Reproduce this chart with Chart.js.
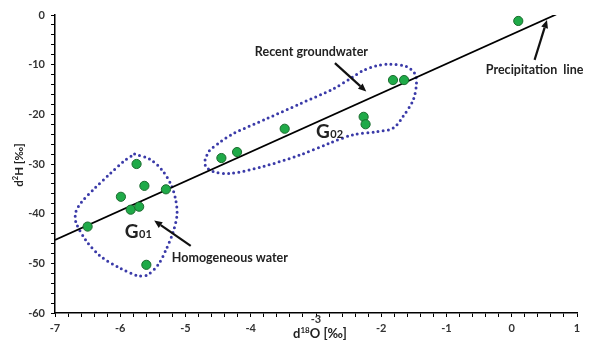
<!DOCTYPE html>
<html>
<head>
<meta charset="utf-8">
<script src="https://cdn.jsdelivr.net/npm/chart.js@4/dist/chart.umd.min.js"></script>
<style>
  html, body { margin: 0; padding: 0; background: #fff; }
  #wrap { width: 589px; height: 346px; position: relative; }
</style>
</head>
<body>
<div id="wrap"><canvas id="c" width="589" height="346"></canvas></div>
<script>
// Water samples: delta 18O and delta 2H (‰)
const sampleO18 = [0.10, -1.82, -1.65, -2.27, -2.24, -3.48, -4.21, -4.45, -5.75, -5.63, -5.30, -5.99, -5.84, -5.71, -6.50, -5.60];
const sampleH2  = [-1.2, -13.1, -13.1, -20.5, -22.0, -22.9, -27.6, -28.8, -30.0, -34.4, -35.1, -36.6, -39.2, -38.6, -42.6, -50.3];

// Precipitation line end points
const lineO18 = [-7.0, 0.68];
const lineH2  = [-45.3, 0.1];

// Outline of group G01 (homogeneous water)
const g01O18 = [-5.78, -5.55, -5.36, -5.22, -5.15, -5.13, -5.19, -5.30, -5.42, -5.58, -5.73, -6.01, -6.31, -6.53, -6.68, -6.68, -6.59, -6.40, -6.16, -5.94, -5.78];
const g01H2  = [-28.0, -29.0, -31.2, -34.2, -37.2, -40.2, -43.7, -47.3, -50.3, -52.3, -52.5, -50.9, -48.5, -45.3, -41.7, -39.6, -37.6, -35.0, -32.0, -29.4, -28.0];

// Outline of group G02 (recent groundwater)
const g02O18 = [-4.70, -4.64, -4.47, -4.27, -3.76, -3.25, -2.74, -2.44, -2.28, -2.07, -1.87, -1.61, -1.49, -1.46, -1.51, -1.67, -1.82, -2.07, -2.43, -2.79, -3.25, -3.81, -4.32, -4.58, -4.69, -4.70];
const g02H2  = [-29.2, -27.4, -25.6, -23.9, -20.9, -17.9, -14.9, -12.5, -11.2, -10.2, -9.9, -10.4, -11.7, -13.7, -17.1, -20.5, -22.8, -23.5, -24.1, -25.8, -28.2, -30.5, -31.9, -31.5, -30.5, -29.2];

// Axis ranges and labelled ticks
const xMin = -7, xMax = 1, xMinorStep = 0.2;
const yMin = -60, yMax = 0, yMinorStep = 2;
const xTickLabels = [-7, -6, -5, -4, -3, -2, -1, 0, 1];
const yTickLabels = [-60, -50, -40, -30, -20, -10, 0];

// Text annotations with arrows (data coordinates)
const noteTexts = ['Recent groundwater', 'Precipitation  line', 'Homogeneous water'];
const noteTextO18 = [-3.07, 0.35, -4.32];
const noteTextH2  = [-7.4, -11.1, -48.9];
const arrowFromO18 = [-2.71, 0.35, -4.92];
const arrowFromH2  = [-9.7, -9.05, -46.5];
const arrowToO18   = [-2.23, 0.54, -5.48];
const arrowToH2    = [-15.4, -1.0, -41.4];

// Group labels
const groupNames = ['G', 'G'];
const groupSubs  = ['01', '02'];
const groupO18   = [-5.93, -3.00];
const groupH2    = [-44.8, -24.85];

const zip = (xs, ys) => xs.map((x, i) => ({ x: x, y: ys[i] }));
const near = (v, list) => list.some(t => Math.abs(v - t) < 1e-6);

const TEXT = '#222';
const FONT = 'Lato, "Open Sans", sans-serif';

const annotations = {
  id: 'annotations',
  afterDraw(chart) {
    const ctx = chart.ctx;
    const xs = chart.scales.x, ys = chart.scales.y;
    const area = chart.chartArea;
    ctx.save();

    // arrows
    ctx.strokeStyle = '#111';
    ctx.fillStyle = '#111';
    ctx.lineWidth = 2.2;
    for (let i = 0; i < arrowFromO18.length; i++) {
      const x0 = xs.getPixelForValue(arrowFromO18[i]), y0 = ys.getPixelForValue(arrowFromH2[i]);
      const x1 = xs.getPixelForValue(arrowToO18[i]), y1 = ys.getPixelForValue(arrowToH2[i]);
      const a = Math.atan2(y1 - y0, x1 - x0);
      const hl = 8, hw = 3.5;
      const bx = x1 - hl * Math.cos(a), by = y1 - hl * Math.sin(a);
      ctx.beginPath();
      ctx.moveTo(x0, y0);
      ctx.lineTo(bx, by);
      ctx.stroke();
      ctx.beginPath();
      ctx.moveTo(x1, y1);
      ctx.lineTo(bx + hw * Math.sin(a), by - hw * Math.cos(a));
      ctx.lineTo(bx - hw * Math.sin(a), by + hw * Math.cos(a));
      ctx.closePath();
      ctx.fill();
    }

    // annotation texts
    ctx.fillStyle = TEXT;
    ctx.font = 'bold 12.5px ' + FONT;
    ctx.textAlign = 'center';
    ctx.textBaseline = 'middle';
    for (let i = 0; i < noteTexts.length; i++) {
      ctx.fillText(noteTexts[i], xs.getPixelForValue(noteTextO18[i]), ys.getPixelForValue(noteTextH2[i]));
    }

    // group labels G01 / G02
    ctx.textAlign = 'left';
    ctx.textBaseline = 'alphabetic';
    for (let i = 0; i < groupNames.length; i++) {
      const gx = xs.getPixelForValue(groupO18[i]), gy = ys.getPixelForValue(groupH2[i]);
      ctx.font = 'bold 19px ' + FONT;
      ctx.fillText(groupNames[i], gx, gy);
      const w = ctx.measureText(groupNames[i]).width;
      ctx.font = 'bold 11px ' + FONT;
      ctx.fillText(groupSubs[i], gx + w + 0.5, gy);
    }

    // axis titles with superscripts
    const drawSup = (parts, cx, cy) => {
      let total = 0;
      parts.forEach(p => { ctx.font = p.font; total += ctx.measureText(p.t).width; });
      let x = cx - total / 2;
      parts.forEach(p => {
        ctx.font = p.font;
        ctx.fillText(p.t, x, cy + p.dy);
        x += ctx.measureText(p.t).width;
      });
    };
    ctx.fillStyle = TEXT;
    ctx.textBaseline = 'alphabetic';
    ctx.textAlign = 'left';
    drawSup([
      { t: 'd', font: 'bold 13px ' + FONT, dy: 0 },
      { t: '18', font: 'bold 8px ' + FONT, dy: -5.5 },
      { t: 'O [‰]', font: 'bold 13px ' + FONT, dy: 0 }
    ], (area.left + area.right) / 2 + 4, area.bottom + 25);

    ctx.save();
    ctx.translate(area.left - 32, (area.top + area.bottom) / 2 + 1);
    ctx.rotate(-Math.PI / 2);
    drawSup([
      { t: 'd', font: 'bold 11.5px ' + FONT, dy: 0 },
      { t: '2', font: 'bold 7.5px ' + FONT, dy: -5 },
      { t: 'H [‰]', font: 'bold 11.5px ' + FONT, dy: 0 }
    ], 0, 0);
    ctx.restore();

    // the -3 label sits raised above the axis title
    ctx.font = 'bold 11px ' + FONT;
    ctx.fillStyle = '#333';
    ctx.textAlign = 'center';
    ctx.textBaseline = 'middle';
    ctx.fillText('-3', xs.getPixelForValue(-3), area.bottom + 6.5);

    ctx.restore();
  }
};

const tickGrid = {
  display: true,
  drawOnChartArea: false,
  drawTicks: true,
  tickLength: 4,
  color: '#000',
  lineWidth: 1
};

new Chart(document.getElementById('c'), {
  type: 'scatter',
  data: {
    datasets: [
      {
        label: 'Samples',
        data: zip(sampleO18, sampleH2),
        pointRadius: 4.6,
        pointBackgroundColor: '#1faa48',
        pointBorderColor: '#1b6b2e',
        pointBorderWidth: 1,
        showLine: false
      },
      {
        label: 'Precipitation line',
        data: zip(lineO18, lineH2),
        showLine: true,
        borderColor: '#000',
        borderWidth: 1.8,
        pointRadius: 0
      },
      {
        label: 'G01',
        data: zip(g01O18, g01H2),
        showLine: true,
        tension: 0.3,
        borderColor: '#3a3aa8',
        borderWidth: 3,
        borderDash: [0, 5.2],
        borderCapStyle: 'round',
        pointRadius: 0
      },
      {
        label: 'G02',
        data: zip(g02O18, g02H2),
        showLine: true,
        tension: 0.3,
        borderColor: '#3a3aa8',
        borderWidth: 3,
        borderDash: [0, 5.2],
        borderCapStyle: 'round',
        pointRadius: 0
      }
    ]
  },
  options: {
    responsive: false,
    animation: false,
    events: [],
    layout: { padding: { top: 15, right: 12, left: 0, bottom: 0 } },
    plugins: { legend: { display: false }, tooltip: { enabled: false } },
    scales: {
      x: {
        type: 'linear',
        min: xMin, max: xMax,
        afterFit(scale) { scale.height = 33; },
        grid: tickGrid,
        border: { display: true, color: '#000', width: 1.5 },
        ticks: {
          stepSize: xMinorStep,
          maxTicksLimit: 100,
          autoSkip: false,
          maxRotation: 0, minRotation: 0,
          padding: 5,
          color: '#333',
          font: { family: FONT, size: 11, weight: 'bold' },
          callback: v => (near(v, xTickLabels) && !near(v, [-3])) ? String(Math.round(v)) : ''
        }
      },
      y: {
        type: 'linear',
        min: yMin, max: yMax,
        afterFit(scale) { scale.width = 55; },
        grid: tickGrid,
        border: { display: true, color: '#000', width: 1.5 },
        ticks: {
          stepSize: yMinorStep,
          maxTicksLimit: 100,
          autoSkip: false,
          padding: 6,
          color: '#333',
          font: { family: FONT, size: 11, weight: 'bold' },
          callback: v => near(v, yTickLabels) ? String(Math.round(v)) : ''
        }
      }
    }
  },
  plugins: [annotations]
});
</script>
</body>
</html>
